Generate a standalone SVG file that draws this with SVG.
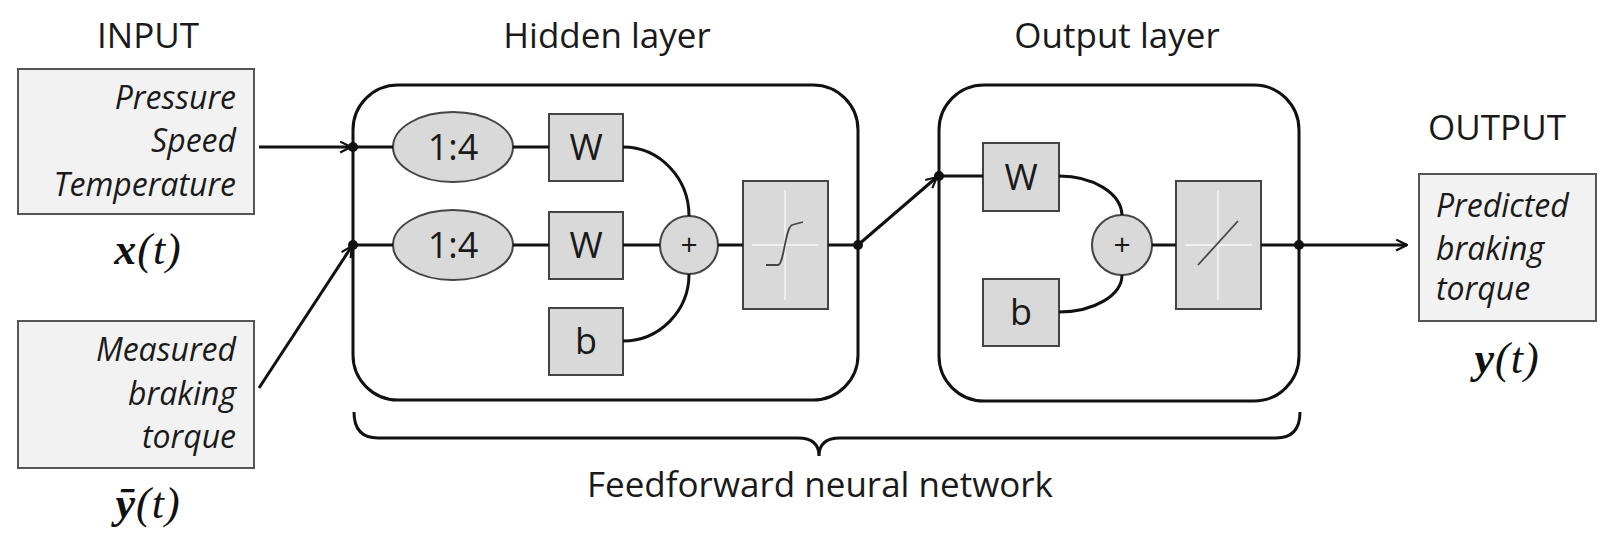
<svg xmlns="http://www.w3.org/2000/svg" width="1615" height="534" viewBox="0 0 1615 534">
<style>
.title{font-family:"Open Sans",sans-serif;font-size:35px;fill:#1a1a1a;text-anchor:middle}
.io{fill:#f2f2f2;stroke:#555;stroke-width:2}
.it{font-family:"Open Sans",sans-serif;font-style:italic;font-size:32px;fill:#1a1a1a}
.math{font-family:"Liberation Serif",serif;font-style:italic;font-weight:bold;font-size:44px;fill:#111;text-anchor:middle}
.layer{fill:none;stroke:#111;stroke-width:3}
.blk{fill:#d9d9d9;stroke:#444;stroke-width:2}
.lbl{font-family:"Open Sans",sans-serif;font-size:36px;fill:#1a1a1a;text-anchor:middle}
.wire{fill:none;stroke:#111;stroke-width:3}
.dot{fill:#111}
.cross{stroke:#f4f4f4;stroke-width:1.5}
</style>
<defs>
<marker id="arr2" viewBox="0 0 12 12" refX="11" refY="6" markerWidth="13" markerHeight="13" markerUnits="userSpaceOnUse" orient="auto">
<path d="M1,1 L11,6 L1,11" fill="none" stroke="#111" stroke-width="2"/>
</marker>
</defs>
<rect width="1615" height="534" fill="#fff"/>

<g id="titles">
<text class="title" x="148" y="48">INPUT</text>
<text class="title" x="607" y="48">Hidden layer</text>
<text class="title" x="1117" y="48">Output layer</text>
<text class="title" x="1497" y="140">OUTPUT</text>
<text class="title" x="820" y="497">Feedforward neural network</text>
</g>

<g id="input1">
<rect class="io" x="18" y="69" width="236" height="145"/>
<text class="it" x="236" y="109" text-anchor="end">Pressure</text>
<text class="it" x="236" y="152" text-anchor="end">Speed</text>
<text class="it" x="236" y="196" text-anchor="end">Temperature</text>
<text class="math" x="148" y="264" letter-spacing="1">x<tspan font-weight="normal">(t)</tspan></text>
</g>

<g id="input2">
<rect class="io" x="18" y="321" width="236" height="147"/>
<text class="it" x="236" y="361" text-anchor="end">Measured</text>
<text class="it" x="236" y="405" text-anchor="end">braking</text>
<text class="it" x="236" y="448" text-anchor="end">torque</text>
<text class="math" x="148" y="518" letter-spacing="1">ȳ<tspan font-weight="normal">(t)</tspan></text>
</g>

<g id="hidden-layer">
<rect class="layer" x="353" y="85" width="505" height="315" rx="45"/>
<g id="delay1">
<ellipse class="blk" cx="453" cy="147" rx="60" ry="35"/>
<text class="lbl" x="453" y="160">1:4</text>
</g>
<g id="delay2">
<ellipse class="blk" cx="453" cy="245" rx="60" ry="35"/>
<text class="lbl" x="453" y="258">1:4</text>
</g>
<g id="w1">
<rect class="blk" x="549" y="114" width="74" height="67"/>
<text class="lbl" x="586" y="160">W</text>
</g>
<g id="w2">
<rect class="blk" x="549" y="212" width="74" height="67"/>
<text class="lbl" x="586" y="258">W</text>
</g>
<g id="b1">
<rect class="blk" x="549" y="308" width="74" height="67"/>
<text class="lbl" x="586" y="354">b</text>
</g>
<g id="sum1">
<circle class="blk" cx="689" cy="245" r="29"/>
<text class="lbl" x="689" y="255" style="font-size:30px">+</text>
</g>
<g id="tansig">
<rect class="blk" x="743" y="181" width="85" height="128"/>
<line class="cross" x1="785" y1="190" x2="785" y2="300"/>
<line class="cross" x1="752" y1="245" x2="819" y2="245"/>
<path d="M766,265 L778,265 C784,265 785,228 792,225 L803,222" fill="none" stroke="#444" stroke-width="1.8"/>
</g>
</g>

<g id="output-layer">
<rect class="layer" x="939" y="85" width="360" height="316" rx="45"/>
<g id="w3">
<rect class="blk" x="983" y="143" width="76" height="68"/>
<text class="lbl" x="1021" y="190">W</text>
</g>
<g id="b2">
<rect class="blk" x="983" y="279" width="76" height="67"/>
<text class="lbl" x="1021" y="325">b</text>
</g>
<g id="sum2">
<circle class="blk" cx="1122" cy="245" r="30"/>
<text class="lbl" x="1122" y="255" style="font-size:30px">+</text>
</g>
<g id="purelin">
<rect class="blk" x="1176" y="181" width="85" height="128"/>
<line class="cross" x1="1218" y1="190" x2="1218" y2="300"/>
<line class="cross" x1="1185" y1="245" x2="1252" y2="245"/>
<line x1="1198" y1="265" x2="1238" y2="221" stroke="#444" stroke-width="1.8"/>
</g>
</g>

<g id="output">
<rect class="io" x="1419" y="174" width="177" height="147"/>
<text class="it" x="1436" y="217">Predicted</text>
<text class="it" x="1436" y="260">braking</text>
<text class="it" x="1436" y="300">torque</text>
<text class="math" x="1507" y="373" letter-spacing="1">y<tspan font-weight="normal">(t)</tspan></text>
</g>

<g id="connectors">
<line class="wire" x1="259" y1="147" x2="351" y2="147" marker-end="url(#arr2)"/>
<line class="wire" x1="259" y1="388" x2="352" y2="246" marker-end="url(#arr2)"/>
<line class="wire" x1="353" y1="147" x2="393" y2="147" stroke-width="2.5"/>
<line class="wire" x1="353" y1="245" x2="393" y2="245" stroke-width="2.5"/>
<line class="wire" x1="513" y1="147" x2="549" y2="147" stroke-width="2.5"/>
<line class="wire" x1="513" y1="245" x2="549" y2="245" stroke-width="2.5"/>
<path class="wire" d="M623,147 A66,69 0 0 1 689,216"/>
<line class="wire" x1="623" y1="245" x2="660" y2="245"/>
<path class="wire" d="M623,341 A66,67 0 0 0 689,274"/>
<line class="wire" x1="718" y1="245" x2="743" y2="245"/>
<line class="wire" x1="828" y1="245" x2="858" y2="245"/>
<line class="wire" x1="858" y1="245" x2="937" y2="177" marker-end="url(#arr2)"/>
<line class="wire" x1="939" y1="176" x2="983" y2="176"/>
<path class="wire" d="M1059,176 A63,40 0 0 1 1122,215"/>
<path class="wire" d="M1059,312 A63,37 0 0 0 1122,275"/>
<line class="wire" x1="1152" y1="245" x2="1176" y2="245"/>
<line class="wire" x1="1261" y1="245" x2="1299" y2="245"/>
<line class="wire" x1="1299" y1="245" x2="1407" y2="245" marker-end="url(#arr2)"/>
<circle class="dot" cx="353" cy="147" r="5"/>
<circle class="dot" cx="353" cy="245" r="5"/>
<circle class="dot" cx="858" cy="245" r="5"/>
<circle class="dot" cx="939" cy="176" r="5"/>
<circle class="dot" cx="1299" cy="245" r="5"/>
</g>

<g id="brace">
<path class="wire" d="M354,412 Q354,438 378,438 L798,438 Q819,438 819,456 Q819,438 840,438 L1276,438 Q1300,438 1300,412"/>
</g>
</svg>
